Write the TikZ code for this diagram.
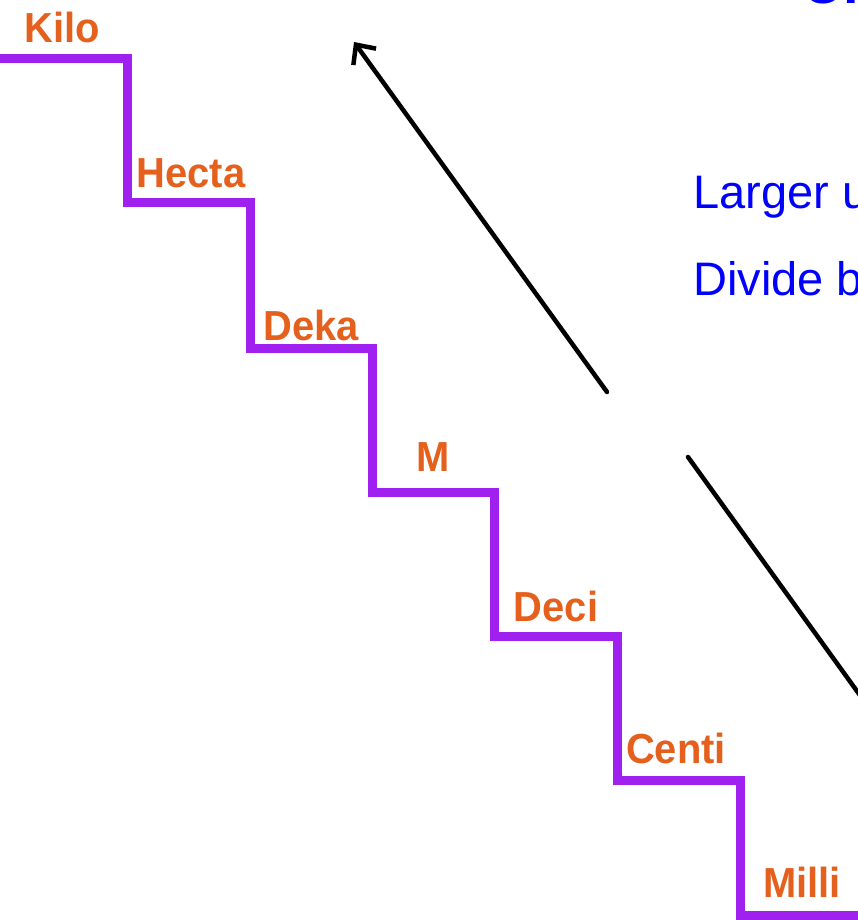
\documentclass[tikz,border=0pt]{standalone}
\usepackage{fontspec}
\setmainfont{Liberation Sans}
\usetikzlibrary{arrows.meta}
\definecolor{stair}{RGB}{160,32,240}
\definecolor{lbl}{RGB}{228,96,28}
\definecolor{bluetxt}{RGB}{0,0,255}
\tikzset{
  stairline/.style={draw=stair,line width=9pt,line join=miter},
  steplabel/.style={font=\fontsize{42}{42}\selectfont\bfseries,text=lbl,inner sep=0pt,xscale=0.95,transform shape},
  infotext/.style={font=\fontsize{47}{47}\selectfont,text=bluetxt,inner sep=0pt,anchor=base west},
  bigarrow/.style={draw=black,line width=4.5pt,line cap=round}
}
\begin{document}
\begin{tikzpicture}[x=1pt,y=-1pt]
\useasboundingbox (0,0) rectangle (858,920);
\clip (0,0) rectangle (858,920);
% staircase
\draw[stairline] (-10,59) -- (127,59) -- (127,202) -- (250,202) -- (250,348) -- (372,348) -- (372,492) -- (494,492) -- (494,636) -- (617,636) -- (617,780) -- (740,780) -- (740,915) -- (870,915);
% labels
\node[steplabel] (kilo) at (62,27) {Kilo};
\node[steplabel] (hecta) at (191,173) {Hecta};
\node[steplabel] (deka) at (311,325) {Deka};
\node[steplabel] (m) at (433,457) {M};
\node[steplabel] (deci) at (556,606) {Deci};
\node[steplabel] (centi) at (676,748) {Centi};
\node[steplabel] (milli) at (802,882) {Milli};
% text
\node[font=\fontsize{56}{56}\selectfont\bfseries,text=bluetxt,inner sep=0pt,anchor=base west] (title) at (803,4) {Un};
\node[infotext] (larger) at (693,208) {Larger u};
\node[infotext] (divide) at (693,295) {Divide b};
% arrows
\coordinate (a1s) at (607,392);
\coordinate (a1e) at (354,42);
\coordinate (a2s) at (688,457);
\coordinate (a2e) at (880,723);
\draw[bigarrow,-{Straight Barb[length=15pt,width=28pt]}] (a1s) -- (a1e);
\draw[bigarrow] (a2s) -- (a2e);
\end{tikzpicture}
\end{document}
